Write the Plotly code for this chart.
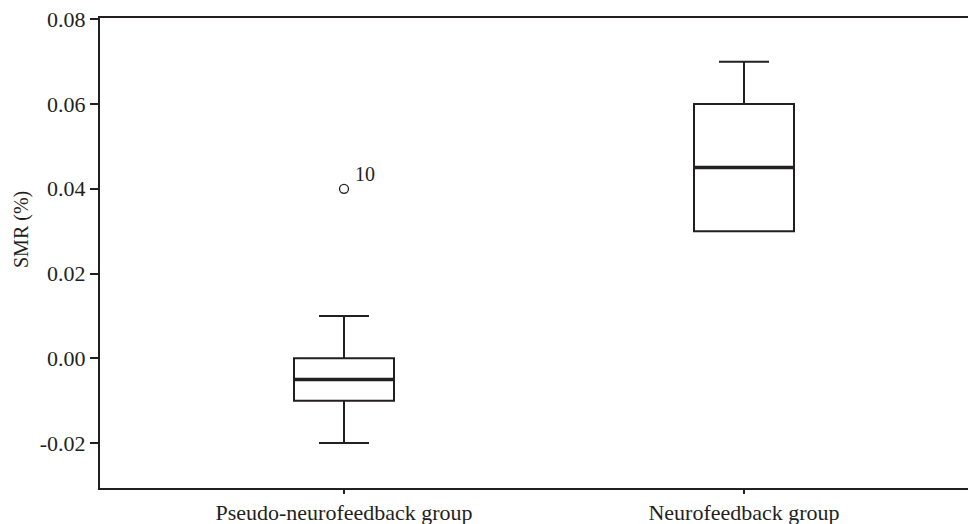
import plotly.graph_objects as go

categories = ["Pseudo-neurofeedback group", "Neurofeedback group"]
q1 = [-0.010, 0.030]
median = [-0.005, 0.045]
q3 = [0.000, 0.060]
lower_whisker = [-0.020, 0.030]
upper_whisker = [0.010, 0.070]
outlier_group = [0]
outlier_value = [0.040]
outlier_label = ["10"]
y_ticks = [-0.02, 0.00, 0.02, 0.04, 0.06, 0.08]

ink = "#231f20"
family = "Liberation Serif, Times New Roman, serif"
font = dict(family=family, size=22, color=ink)
positions = list(range(len(categories)))
box_w = 0.25

fig = go.Figure()
fig.add_trace(go.Box(
    x=positions, q1=q1, median=median, q3=q3,
    lowerfence=lower_whisker, upperfence=upper_whisker,
    width=box_w, whiskerwidth=0.5,
    line=dict(color=ink, width=2), fillcolor="white",
    boxpoints=False, showlegend=False, hoverinfo="skip",
))
# thicker median lines
for p, m in zip(positions, median):
    fig.add_shape(type="line", x0=p - box_w / 2, x1=p + box_w / 2, y0=m, y1=m,
                  line=dict(color=ink, width=3.5), layer="above")

ox = [positions[g] for g in outlier_group]
fig.add_trace(go.Scatter(
    x=ox, y=outlier_value, mode="markers",
    marker=dict(symbol="circle-open", size=9, color=ink, line=dict(width=1.3)),
    showlegend=False, hoverinfo="skip", cliponaxis=False,
))
for x, y, t in zip(ox, outlier_value, outlier_label):
    fig.add_annotation(x=x, y=y, text=t, showarrow=False, xshift=21, yshift=15,
                       font=dict(family=family, size=20, color=ink))

fig.add_annotation(text="SMR (%)", xref="paper", yref="paper", x=-0.0882, y=0.549,
                   textangle=-90, showarrow=False, xanchor="center", yanchor="middle",
                   font=dict(family=family, size=20, color=ink))

fig.update_layout(
    width=976, height=524,
    margin=dict(l=92, r=0, t=10, b=44),
    paper_bgcolor="white", plot_bgcolor="white",
    font=font,
)
fig.update_xaxes(
    range=[-0.61, 1.6], tickvals=positions, ticktext=categories,
    showline=True, linecolor=ink, linewidth=2, mirror=True,
    ticks="outside", ticklen=4, tickwidth=2, tickcolor=ink,
    showgrid=False, zeroline=False, tickfont=font,
    ticklabeloverflow="allow",
)
fig.update_yaxes(
    range=[-0.0306, 0.0803], tickvals=y_ticks,
    ticktext=[f"{v:.2f}" for v in y_ticks],
    showline=True, linecolor=ink, linewidth=2,
    ticks="outside", ticklen=8, tickwidth=2, tickcolor=ink,
    showgrid=False, zeroline=False, tickfont=font,
    ticklabeloverflow="allow",
)
fig.write_html("out.html")
